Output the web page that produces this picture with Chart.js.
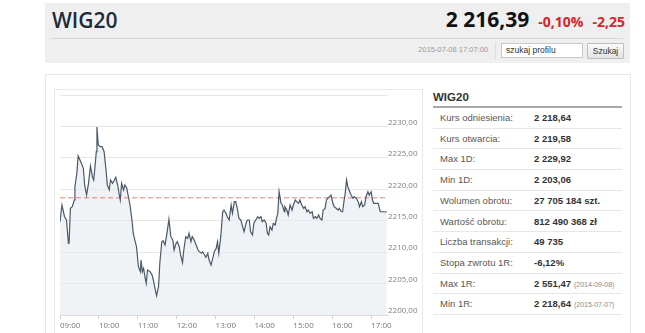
<!DOCTYPE html>
<html lang="pl">
<head>
<meta charset="utf-8">
<script src="https://cdn.jsdelivr.net/npm/chart.js@4/dist/chart.umd.min.js"></script>
<style>
  html,body{margin:0;padding:0;background:#fff;width:645px;height:333px;overflow:hidden;font-family:"Liberation Sans",Arial,sans-serif;}
  .abs{position:absolute;}
  #hdr{left:45px;top:3px;width:585px;height:60px;background:#efefef;}
  #title{left:52px;top:9.7px;font:600 21px/21px "Open Sans",sans-serif;color:#1c2b3a;white-space:nowrap;}
  #price{right:20px;top:8.6px;font:700 21px/21px "Open Sans",sans-serif;color:#111;white-space:nowrap;}
  #price .red{font-size:14px;color:#d7252c;margin-left:9px;}
  #sep{left:51px;top:38px;width:572px;height:1px;background:#d6d6d6;}
  #date{left:400px;width:88px;text-align:right;top:45px;font-size:7.5px;line-height:10px;color:#9a9a9a;white-space:nowrap;}
  #vsep{left:495px;top:42px;width:1px;height:17px;background:#dedede;}
  #inp{left:501px;top:43px;width:76px;height:13px;border:1px solid #c9c9c9;background:#fff;font-size:8.5px;line-height:13px;color:#333;padding-left:4px;}
  #btn{left:587px;top:43px;width:35px;height:14px;border:1px solid #bdbdbd;background:linear-gradient(#fbfbfb,#e2e2e2);font-size:8.5px;line-height:14px;color:#333;text-align:center;border-radius:1px;}
  #outer{left:45px;top:74px;width:584px;height:280px;border:1px solid #e6e6e6;background:#fff;}
  #panel{left:54px;top:89px;width:367px;height:250px;border:1px solid #e9e9e9;}
  #chartBox{left:55px;top:89px;width:366px;height:244px;}
  #ttitle{left:433px;top:90px;font:700 11.5px/14px "Liberation Sans",Arial,sans-serif;color:#333;}
  #tline{left:433px;top:106px;width:189px;height:2px;background:#a9a9a9;}
  .row{position:absolute;left:433px;width:189px;height:19.7px;border-bottom:1px solid #e7e7e7;font-size:9.5px;line-height:19.7px;white-space:nowrap;}
  .row .l{position:absolute;left:7px;color:#585858;}
  .row .v{position:absolute;left:101px;color:#333;font-weight:700;}
  .row .d{font-weight:400;font-size:7px;color:#8a8a8a;margin-left:3px;}
</style>
</head>
<body>
<div id="hdr" class="abs"></div>
<div id="title" class="abs">WIG20</div>
<div id="price" class="abs">2 216,39<span class="red">-0,10%</span><span class="red">-2,25</span></div>
<div id="sep" class="abs"></div>
<div id="date" class="abs">2015-07-08 17:07:00</div>
<div id="vsep" class="abs"></div>
<div id="inp" class="abs">szukaj profilu</div>
<div id="btn" class="abs">Szukaj</div>

<div id="outer" class="abs"></div>
<div id="panel" class="abs"></div>
<div id="chartBox" class="abs"><canvas id="c"></canvas></div>

<div id="ttitle" class="abs">WIG20</div>
<div id="tline" class="abs"></div>
<div id="rows"></div>

<script>
// ---- data ----
const minutesFrom0900 = [0,3,7,10,13,14,16,19,22,23,26,28,32,36,38,41,44,47,50,52,54,56,57,59,62,65,68,71,73,76,78,81,84,86,89,91,93,95,98,100,103,105,108,111,113,116,118,121,124,125,127,129,131,133,135,139,142,144,147,149,152,154,157,159,162,165,168,171,174,176,179,181,184,186,189,191,194,197,199,202,204,207,210,213,215,218,220,223,225,228,230,233,236,238,241,243,245,248,251,253,256,258,261,264,266,269,271,274,276,279,281,284,287,289,292,294,297,299,302,305,307,310,312,315,318,320,322,324,327,329,332,334,336,338,341,343,346,347,350,352,355,358,360,363,365,368,370,373,376,378,381,383,386,389,391,394,396,399,401,404,406,409,411,413,416,418,421,423,426,429,431,434,436,438,440,442,444,447,449,452,454,457,460,462,465,467,470,472,475,477,480,482,484,491,494,499,504];
const wig20Values = [2214.84,2217.50,2215.64,2215.11,2211.41,2211.45,2216.97,2217.23,2218.30,2220.41,2222.54,2225.30,2224.39,2223.34,2220.68,2219.09,2220.95,2223.70,2222.00,2221.48,2223.59,2225.98,2229.92,2227.05,2226.78,2226.78,2225.98,2223.07,2220.68,2219.89,2221.48,2220.95,2221.48,2221.91,2220.68,2219.36,2218.30,2220.95,2219.89,2220.68,2220.20,2219.09,2217.50,2215.11,2213.00,2211.66,2210.87,2207.68,2206.89,2208.75,2206.89,2207.43,2206.09,2205.04,2207.16,2206.89,2206.36,2205.57,2203.98,2203.06,2204.50,2208.27,2211.66,2211.82,2211.14,2213.00,2215.22,2212.46,2211.93,2210.34,2211.41,2211.66,2210.87,2209.55,2208.32,2210.34,2212.46,2212.20,2213.00,2211.66,2212.46,2211.93,2211.14,2210.34,2210.07,2209.82,2210.07,2209.55,2209.18,2209.82,2208.75,2207.95,2209.18,2210.07,2210.61,2211.66,2209.82,2212.46,2216.43,2216.70,2216.18,2215.64,2215.11,2217.50,2216.18,2218.03,2218.03,2216.70,2215.38,2215.11,2214.32,2213.25,2214.59,2215.11,2215.11,2213.25,2212.73,2214.59,2215.11,2215.64,2215.38,2215.64,2214.84,2215.11,2214.59,2213.00,2212.73,2214.05,2213.52,2214.59,2214.32,2215.38,2216.18,2219.62,2217.77,2217.50,2216.43,2217.23,2216.70,2215.91,2217.50,2216.70,2217.50,2218.30,2218.03,2217.77,2218.30,2217.50,2216.97,2217.23,2216.43,2216.70,2216.18,2216.43,2215.38,2215.64,2215.38,2215.91,2215.38,2215.11,2216.70,2216.97,2218.30,2218.57,2218.82,2219.09,2217.77,2217.23,2216.97,2216.70,2216.97,2216.43,2216.43,2218.03,2219.36,2221.48,2220.41,2219.62,2219.09,2218.57,2218.82,2218.57,2218.03,2217.23,2218.03,2217.23,2217.50,2218.82,2219.62,2219.09,2219.62,2218.30,2217.77,2217.77,2216.43,2216.43,2216.39];
const kursOdniesienia = 2218.64;
const hourLabels = ['09:00','10:00','11:00','12:00','13:00','14:00','15:00','16:00','17:00'];
const yTickValues = [2200,2205,2210,2215,2220,2225,2230,2235];
const yTickLabels = ['2200,00','2205,00','2210,00','2215,00','2220,00','2225,00','2230,00',''];

const tableLabels = ['Kurs odniesienia:','Kurs otwarcia:','Max 1D:','Min 1D:','Wolumen obrotu:','Wartość obrotu:','Liczba transakcji:','Stopa zwrotu 1R:','Max 1R:','Min 1R:'];
const tableValues = ['2 218,64','2 219,58','2 229,92','2 203,06','27 705 184 szt.','812 490 368 zł','49 735','-6,12%','2 551,47','2 218,64'];
const tableDates  = ['','','','','','','','','(2014-09-08)','(2015-07-07)'];

// ---- table ----
const rowsEl = document.getElementById('rows');
tableLabels.forEach((lab, i) => {
  const r = document.createElement('div');
  r.className = 'row';
  r.style.top = (108 + i * 20.7) + 'px';
  const l = document.createElement('span'); l.className = 'l'; l.textContent = lab;
  const v = document.createElement('span'); v.className = 'v'; v.textContent = tableValues[i];
  if (tableDates[i]) { const d = document.createElement('span'); d.className = 'd'; d.textContent = tableDates[i]; v.appendChild(d); }
  r.appendChild(l); r.appendChild(v);
  rowsEl.appendChild(r);
});

// ---- chart ----
const X_MAX = 506;
const points = minutesFrom0900.map((m, i) => ({x: m, y: wig20Values[i]}));
const refLine = [{x: 0, y: kursOdniesienia}, {x: X_MAX, y: kursOdniesienia}];
const tickFont = {family: 'Open Sans', size: 8};

new Chart(document.getElementById('c'), {
  type: 'line',
  data: {
    datasets: [
      {data: points, borderColor: '#4b5869', borderWidth: 1.2, pointRadius: 0, tension: 0,
       fill: 'start', backgroundColor: 'rgba(232,236,241,0.65)'},
      {data: refLine, borderColor: '#e4806d', borderWidth: 1, borderDash: [5, 3], pointRadius: 0, fill: false}
    ]
  },
  options: {
    responsive: true, maintainAspectRatio: false, animation: false,
    layout: {padding: {left: 5, top: 6, right: 0, bottom: 0}},
    plugins: {legend: {display: false}, tooltip: {enabled: false}, filler: {drawTime: 'beforeDatasetsDraw'}},
    scales: {
      x: {
        type: 'linear', min: 0, max: X_MAX,
        afterFit: s => { s.height = 18; },
        border: {display: true, color: '#dcdcdc'},
        grid: {drawOnChartArea: false, drawTicks: true, tickLength: 4, color: '#cfcfcf'},
        ticks: {
          stepSize: 60, includeBounds: false, autoSkip: false, maxRotation: 0, align: 'start', padding: 2,
          font: tickFont, color: '#777',
          callback: v => (v % 60 === 0 && hourLabels[v / 60] !== undefined) ? hourLabels[v / 60] : null
        }
      },
      y: {
        position: 'right', min: 2200, max: 2235,
        afterFit: s => { s.width = 33; },
        afterBuildTicks: s => { s.ticks = yTickValues.map(v => ({value: v})); },
        border: {display: false},
        grid: {color: '#e6e6e6', drawTicks: false},
        ticks: {
          padding: 0, labelOffset: -4, font: tickFont, color: '#808080',
          callback: v => { const i = yTickValues.indexOf(v); return i >= 0 ? yTickLabels[i] : ''; }
        }
      }
    }
  }
});
</script>
</body>
</html>
